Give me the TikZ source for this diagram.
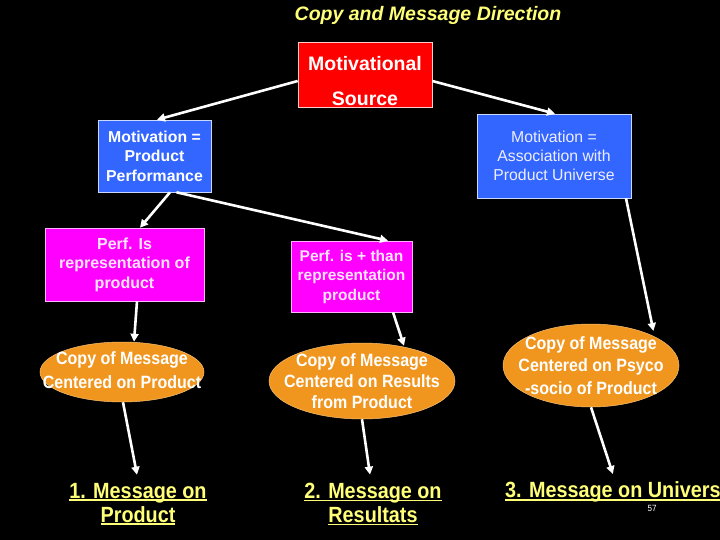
\documentclass[tikz,border=0pt]{standalone}
\usepackage{fontspec}
\setmainfont{Liberation Sans}
\newfontfamily\narrowfont[FakeStretch=0.9]{Liberation Sans}
\usetikzlibrary{arrows.meta,shapes.geometric}
\definecolor{srcred}{RGB}{255,0,0}
\definecolor{boxblue}{RGB}{51,102,255}
\definecolor{boxmag}{RGB}{255,0,255}
\definecolor{ellorange}{RGB}{240,150,30}
\definecolor{paleyellow}{RGB}{255,255,120}
\definecolor{pinkwhite}{RGB}{255,228,255}
\definecolor{paleblue}{RGB}{238,238,255}
\newcommand{\yul}[1]{\setbox0=\hbox{#1}\rlap{\raisebox{-3pt}{\rule{\wd0}{1.6pt}}}\box0}
\begin{document}
\begin{tikzpicture}[x=1pt,y=-1pt,
  box/.style={rectangle, inner sep=0pt, line width=0.6pt, align=center},
  bluebox/.style={box, fill=boxblue, draw=white!75!boxblue, text=white},
  magbox/.style={box, fill=boxmag, draw=white!70!boxmag, text=pinkwhite},
  ellshape/.style={ellipse, inner sep=0pt, fill=ellorange, draw=ellorange!60!white, line width=0.5pt},
  elltext/.style={align=center, inner sep=0pt, text=white},
  bottomtext/.style={align=center, inner sep=0pt, text=paleyellow, font=\narrowfont\fontsize{22}{24}\selectfont\bfseries},
  arr/.style={draw=white, line width=2.6pt, -{Triangle[length=8pt,width=8pt]}}
]
\fill[black] (0,0) rectangle (720,540);
\useasboundingbox (0,0) rectangle (720,540);

% title
\node[font=\fontsize{19.5}{23}\selectfont\bfseries\itshape, text=paleyellow, inner sep=0pt] (title) at (428,15) {Copy and Message Direction};

% motivational source
\node[box, fill=srcred, draw=white!80!srcred, minimum width=134pt, minimum height=65pt] (src) at (365,74.5) {};
\node[box, font=\fontsize{19.5}{35}\selectfont\bfseries, text=white] (srct) at (365,81.5) {Motivational\\Source};

% blue boxes
\node[bluebox, minimum width=113pt, minimum height=72pt, font=\fontsize{15.8}{19.5}\selectfont\bfseries] (mpp) at (154.5,156) {Motivation =\\Product\\Performance};
\node[bluebox, minimum width=154pt, minimum height=84pt, text=paleblue, font=\fontsize{15.8}{19}\selectfont] (mau) at (554,156) {Motivation =\\Association with\\Product Universe};

% magenta boxes
\node[magbox, minimum width=159pt, minimum height=73pt, font=\fontsize{16}{19.5}\selectfont\bfseries] (rep) at (124.5,264.5) {Perf. Is\\representation of\\product};
\node[magbox, minimum width=121pt, minimum height=71pt, font=\fontsize{15.5}{19.5}\selectfont\bfseries] (more) at (351.5,276.5) {Perf. is + than\\representation\\product};

% ellipses
\node[ellshape, minimum width=164pt, minimum height=60pt] (cpp) at (122,372) {};
\node[elltext, font=\narrowfont\fontsize{17.8}{24}\selectfont\bfseries] (cppt) at (122,370) {Copy of Message\\Centered on Product};
\node[ellshape, minimum width=186pt, minimum height=76pt] (res) at (362,381) {};
\node[elltext, font=\narrowfont\fontsize{17.8}{21}\selectfont\bfseries] (rest) at (362,381) {Copy of Message\\Centered on Results\\from Product};
\node[ellshape, minimum width=176pt, minimum height=83pt] (psy) at (591,365.5) {};
\node[elltext, font=\narrowfont\fontsize{17.8}{22.5}\selectfont\bfseries] (psyt) at (591,365.5) {Copy of Message\\Centered on Psyco\\-socio of Product};

% bottom messages
\node[bottomtext] (m1) at (138,504) {\yul{1. Message on}\\\yul{Product}};
\node[bottomtext] (m2) at (373,504) {\yul{2. Message on}\\\yul{Resultats}};
\node[bottomtext, anchor=west] (m3) at (505,492) {\yul{3. Message on Univers}};

% page number
\node[font=\narrowfont\fontsize{9}{11}\selectfont, text=white, inner sep=0pt] (pg) at (652,508) {57};

% connectors
\draw[arr] ([yshift=-6.5pt]src.west) -- ([xshift=2.5pt]mpp.north);
\draw[arr] ([yshift=-6.5pt]src.east) -- ([xshift=1pt]mau.north);
\draw[arr] ([xshift=15.5pt]mpp.south) -- ([xshift=15.5pt]rep.north);
\draw[arr] ([xshift=22pt]mpp.south) -- ([xshift=36.5pt]more.north);
\draw[arr] ([xshift=72pt]mau.south) -- ([yshift=5pt]psy.north east);
\draw[arr] ([xshift=12.5pt]rep.south) -- ([xshift=12pt]cpp.north);
\draw[arr] ([xshift=41.5pt]more.south) -- ([xshift=42pt,yshift=-3pt]res.north);
\draw[arr] ([xshift=1pt]cpp.south) -- ([xshift=-1pt,yshift=8pt]m1.north);
\draw[arr] (res.south) -- ([xshift=-3pt,yshift=8pt]m2.north);
\draw[arr] (psy.south) -- ([yshift=7.5pt]m3.north);
\end{tikzpicture}
\end{document}
